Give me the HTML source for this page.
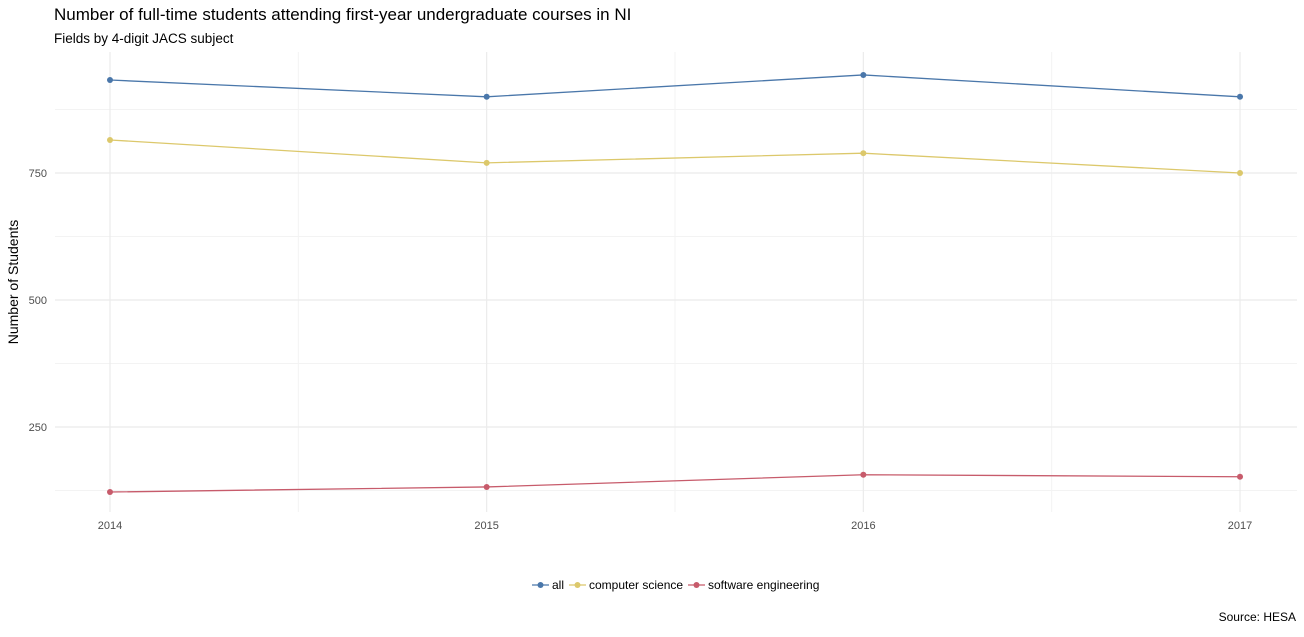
<!DOCTYPE html>
<html><head><meta charset="utf-8"><style>
body{margin:0;background:#fff;font-family:"Liberation Sans",sans-serif;}
svg text{font-family:"Liberation Sans",sans-serif;}
</style></head><body>
<svg id="chart" width="1304" height="632" xmlns="http://www.w3.org/2000/svg">
<text x="54" y="20" font-size="17" fill="#000">Number of full-time students attending first-year undergraduate courses in NI</text>
<text x="54" y="43" font-size="13.5" fill="#000">Fields by 4-digit JACS subject</text>
<text transform="translate(18,282) rotate(-90)" text-anchor="middle" font-size="14" fill="#000">Number of Students</text>
<text x="1296" y="621" text-anchor="end" font-size="12" fill="#000">Source: HESA</text>
<g id="grid"></g><g id="axes"></g><g id="series"></g><g id="legend"></g>
</svg>
<script>
const years=[2014,2015,2016,2017];
const allVals=[933,900,943,900];
const csVals=[815,770,789,750];
const seVals=[122,132,156,152];
const yTicks=[250,500,750];
const yMinor=[125,375,625,875];
const seriesNames=["all","computer science","software engineering"];
const colors=["#4a77aa","#dcc86b","#c75b6b"];
const ns="http://www.w3.org/2000/svg";
const X=v=>110+(v-2014)*376.67;
const Y=v=>300-(v-500)*0.508;
function mk(tag,at,parent){const e=document.createElementNS(ns,tag);for(const k in at)e.setAttribute(k,at[k]);parent.appendChild(e);return e;}
const grid=document.getElementById('grid'),axes=document.getElementById('axes'),ser=document.getElementById('series'),leg=document.getElementById('legend');
yMinor.forEach(v=>{const l=mk('line',{x1:55,x2:1297,y1:Y(v),y2:Y(v),stroke:'#f3f3f3','stroke-width':1},grid);

});
[2014.5,2015.5,2016.5].forEach(v=>{const l=mk('line',{x1:X(v),x2:X(v),y1:52,y2:512,stroke:'#f3f3f3','stroke-width':1},grid);

});
yTicks.forEach(v=>{const l=mk('line',{x1:55,x2:1297,y1:Y(v),y2:Y(v),stroke:'#ebebeb','stroke-width':1.2},grid);


const t=mk('text',{x:47,y:Y(v)+4,'text-anchor':'end','font-size':11,fill:'#4d4d4d'},axes);t.textContent=v;

});
years.forEach(v=>{const l=mk('line',{x1:X(v),x2:X(v),y1:52,y2:512,stroke:'#ebebeb','stroke-width':1.2},grid);


const t=mk('text',{x:X(v),y:529,'text-anchor':'middle','font-size':11,fill:'#4d4d4d'},axes);t.textContent=v;

});
[allVals,csVals,seVals].forEach((vals,i)=>{
const g=mk('g',{},ser);


const p=mk('polyline',{points:vals.map((v,j)=>X(years[j])+','+Y(v)).join(' '),fill:'none',stroke:colors[i],'stroke-width':1.3},g);


vals.forEach((v,j)=>{const c=mk('circle',{cx:X(years[j]),cy:Y(v),r:3,fill:colors[i]},g);

});});
const lx=[532,569,688];const tw=[];
seriesNames.forEach((n,i)=>{const g=mk('g',{},leg);


mk('line',{x1:lx[i],x2:lx[i]+17,y1:585,y2:585,stroke:colors[i],'stroke-width':1.3},g);
mk('circle',{cx:lx[i]+8.5,cy:585,r:3,fill:colors[i]},g);
const t=mk('text',{x:lx[i]+20,y:589,'font-size':12,fill:'#000'},g);t.textContent=n;});
</script>
</body></html>
